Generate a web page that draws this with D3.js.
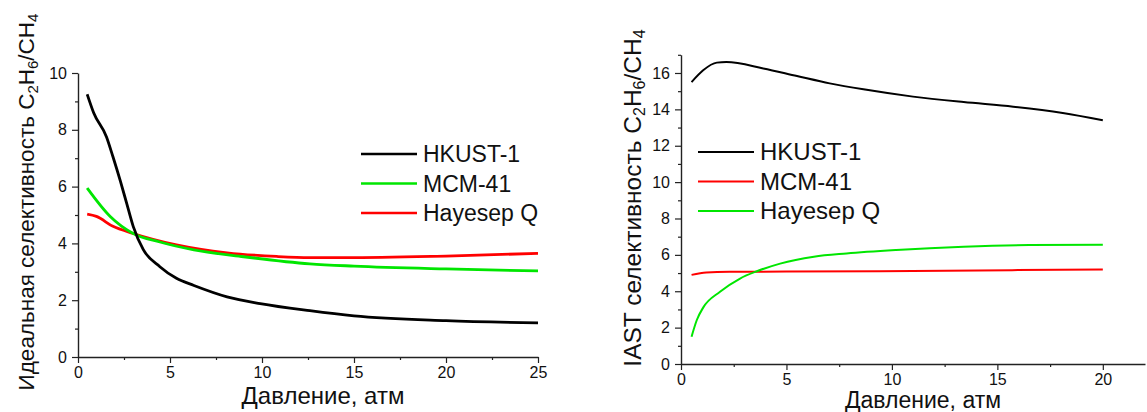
<!DOCTYPE html>
<html>
<head>
<meta charset="utf-8">
<script src="https://cdn.jsdelivr.net/npm/d3@7"></script>
<style>
  html, body { margin: 0; padding: 0; background: #fff; }
  svg { display: block; }
  text { font-family: "Liberation Sans", Arial, sans-serif; fill: #111; }
</style>
</head>
<body>
<svg id="chart" width="1147" height="412"></svg>
<script>
// Ideal selectivity C2H6/CH4 vs pressure (left panel)
const idealPressure = [0.5, 0.85, 1.55, 1.9, 2.3, 2.65, 3.0, 3.55, 4.45, 5.35, 6.3, 8.1, 9.9, 12.6, 15, 20, 25];
const idealHKUST = [9.25, 8.6, 7.75, 7.05, 6.2, 5.4, 4.6, 3.78, 3.18, 2.77, 2.52, 2.12, 1.88, 1.63, 1.45, 1.28, 1.2];
const mcmPressure = [0.5, 1.75, 3.0, 4.45, 6.3, 9.0, 12.6, 15, 20, 25];
const idealMCM = [5.95, 4.95, 4.35, 4.05, 3.77, 3.53, 3.28, 3.2, 3.1, 3.03];
const hayPressure = [0.5, 1.0, 1.9, 3.0, 5.35, 8.1, 10.8, 12.6, 15, 20, 25];
const idealHayesep = [5.03, 4.95, 4.6, 4.35, 3.95, 3.67, 3.54, 3.5, 3.5, 3.55, 3.65];

// IAST selectivity C2H6/CH4 vs pressure (right panel)
const iastHKUSTPressure = [0.5, 1.05, 1.7, 2.15, 3.9, 5.5, 7.05, 8.65, 11.0, 13.4, 15.75, 18.1, 20];
const iastHKUST = [15.5, 16.15, 16.57, 16.6, 16.25, 15.83, 15.43, 15.1, 14.7, 14.4, 14.15, 13.8, 13.4];
const iastMCMPressure = [0.5, 1.2, 2.3, 9.4, 15.7, 20];
const iastMCM = [4.9, 5.03, 5.07, 5.1, 5.16, 5.2];
const iastHayPressure = [0.5, 0.75, 1.05, 1.85, 2.8, 3.6, 4.7, 6.3, 7.85, 10.2, 13.4, 16.5, 20];
const iastHayesep = [1.5, 2.42, 3.1, 3.97, 4.7, 5.1, 5.52, 5.9, 6.08, 6.27, 6.45, 6.54, 6.56];

const seriesNames = ["HKUST-1", "MCM-41", "Hayesep Q"];
const xMajorTicks = [0, 5, 10, 15, 20, 25];
const leftYTicks = [0, 2, 4, 6, 8, 10];
const rightYTicks = [0, 2, 4, 6, 8, 10, 12, 14, 16];
const xTitle = "Давление, атм";

const BLACK = "#000000", RED = "#ff0000", GREEN = "#00e600";
const svg = d3.select("#chart");

function pairs(xs, ys) { return xs.map((x, i) => [x, ys[i]]); }

function drawAxes(g, x, y, xTicks, xMinor, yTicks, yMinor) {
  const [x0] = x.range();
  const [yb] = y.range();
  const axisStyle = sel => {
    sel.select(".domain").attr("stroke", "#222").attr("stroke-width", 1.4);
    sel.selectAll(".tick line").attr("stroke", "#222").attr("stroke-width", 1.2);
    sel.selectAll("text").style("font-size", "16px").attr("fill", "#111");
  };
  g.append("g").attr("transform", `translate(0,${yb})`)
    .call(d3.axisBottom(x).tickValues(xMinor).tickSize(3).tickFormat(""))
    .call(s => { s.select(".domain").remove(); s.selectAll("line").attr("stroke", "#222").attr("stroke-width", 1.2); });
  g.append("g").attr("transform", `translate(${x0},0)`)
    .call(d3.axisLeft(y).tickValues(yMinor).tickSize(3).tickFormat(""))
    .call(s => { s.select(".domain").remove(); s.selectAll("line").attr("stroke", "#222").attr("stroke-width", 1.2); });
  g.append("g").attr("transform", `translate(0,${yb})`)
    .call(d3.axisBottom(x).tickValues(xTicks).tickSize(6).tickSizeOuter(0).tickPadding(4).tickFormat(d3.format("d")))
    .call(axisStyle);
  g.append("g").attr("transform", `translate(${x0},0)`)
    .call(d3.axisLeft(y).tickValues(yTicks).tickSize(6).tickSizeOuter(0).tickPadding(5).tickFormat(d3.format("d")))
    .call(axisStyle);
}

// Rotated y-axis title with subscripted formula C2H6/CH4
function yTitle(g, cx, cy, prefix, size) {
  const sub = Math.round(size * 0.66) + "px";
  const shift = -Math.round(size * 0.18) + "px";
  const t = g.append("text")
    .attr("transform", `translate(${cx},${cy}) rotate(-90)`)
    .attr("text-anchor", "middle")
    .style("font-size", size + "px");
  t.append("tspan").text(prefix + "C");
  t.append("tspan").attr("baseline-shift", shift).style("font-size", sub).text("2");
  t.append("tspan").text("H");
  t.append("tspan").attr("baseline-shift", shift).style("font-size", sub).text("6");
  t.append("tspan").text("/CH");
  t.append("tspan").attr("baseline-shift", shift).style("font-size", sub).text("4");
}

function legend(g, lx, ly, colors, lw, size) {
  seriesNames.forEach((name, i) => {
    const yy = ly + i * 29.5;
    g.append("line").attr("x1", lx).attr("x2", lx + 56).attr("y1", yy).attr("y2", yy)
      .attr("stroke", colors[i]).attr("stroke-width", lw);
    g.append("text").attr("x", lx + 62).attr("y", yy).attr("dy", "0.35em")
      .style("font-size", size + "px").text(name);
  });
}

// Left panel
{
  const g = svg.append("g");
  const x = d3.scaleLinear().domain([0, 25]).range([78, 538]);
  const y = d3.scaleLinear().domain([0, 10]).range([357, 73]);
  drawAxes(g, x, y, xMajorTicks, [2.5, 7.5, 12.5, 17.5, 22.5], leftYTicks, [1, 3, 5, 7, 9]);
  const line = d3.line().x(d => x(d[0])).y(d => y(d[1])).curve(d3.curveMonotoneX);
  [[hayPressure, idealHayesep, RED], [mcmPressure, idealMCM, GREEN], [idealPressure, idealHKUST, BLACK]]
    .forEach(([xs, ys, c]) => g.append("path").datum(pairs(xs, ys)).attr("d", line)
      .attr("fill", "none").attr("stroke", c).attr("stroke-width", 2.8).attr("stroke-linejoin", "round"));
  legend(g, 361, 154, [BLACK, GREEN, RED], 2.6, 23);
  g.append("text").attr("x", 323).attr("y", 404).attr("text-anchor", "middle")
    .style("font-size", "24px").text(xTitle);
  yTitle(g, 34, 202, "Идеальная селективность ", 22.5);
}

// Right panel
{
  const g = svg.append("g");
  const x = d3.scaleLinear().domain([0, 22]).range([681, 1145]);
  const y = d3.scaleLinear().domain([0, 17]).range([364, 54.8]);
  drawAxes(g, x, y, [0, 5, 10, 15, 20], [2.5, 7.5, 12.5, 17.5], rightYTicks, [1, 3, 5, 7, 9, 11, 13, 15, 17]);
  const line = d3.line().x(d => x(d[0])).y(d => y(d[1])).curve(d3.curveMonotoneX);
  [[iastMCMPressure, iastMCM, RED], [iastHayPressure, iastHayesep, GREEN], [iastHKUSTPressure, iastHKUST, BLACK]]
    .forEach(([xs, ys, c]) => g.append("path").datum(pairs(xs, ys)).attr("d", line)
      .attr("fill", "none").attr("stroke", c).attr("stroke-width", 2).attr("stroke-linejoin", "round"));
  legend(g, 698, 152, [BLACK, RED, GREEN], 2, 24);
  g.append("text").attr("x", 923).attr("y", 408).attr("text-anchor", "middle")
    .style("font-size", "23px").text(xTitle);
  yTitle(g, 641, 198, "IAST селективность ", 24.5);
}
</script>
</body>
</html>
